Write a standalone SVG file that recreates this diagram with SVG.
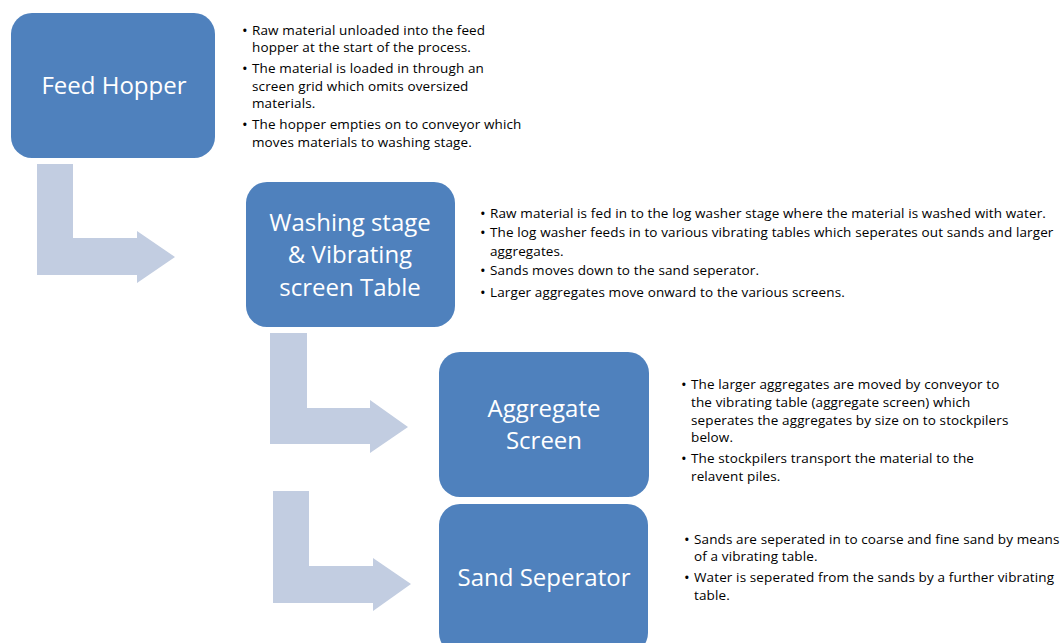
<svg xmlns="http://www.w3.org/2000/svg" width="1062" height="643" viewBox="0 0 1062 643">
<style>
.box{fill:#4F81BD;}
.arrow{fill:#C2CDE1;}
.nt{font-family:"Open Sans","Liberation Sans",sans-serif;font-size:24px;fill:#FFFFFF;text-anchor:middle;}
.bt{font-family:"Open Sans","Liberation Sans",sans-serif;font-size:13.5px;letter-spacing:0.12px;fill:#000000;}
.bu{font-size:15px;}
</style>
<rect width="1062" height="643" fill="#FFFFFF"/>
<g id="connectors">
<path class="arrow" d="M37,164 H73 V238 H137 V231 L175,257 L137,283 V275 H37 Z"/>
<path class="arrow" d="M270,333 H307 V408 H370 V400 L408,427 L370,453 V444 H270 Z"/>
<path class="arrow" d="M273,491 H309 V566 H373 V558 L411,584 L373,611 V603 H273 Z"/>
</g>
<g id="feed-hopper">
<rect class="box" x="11" y="13" width="204" height="145" rx="21"/>
<text class="nt" x="114" y="94">Feed Hopper</text>
</g>
<g id="feed-hopper-notes">
<text class="bt"><tspan class="bu" x="242" y="36">•</tspan><tspan x="252" y="35">Raw material unloaded into the feed</tspan><tspan x="252" y="52">hopper at the start of the process.</tspan><tspan class="bu" x="242" y="74">•</tspan><tspan x="252" y="73">The material is loaded in through an</tspan><tspan x="252" y="91">screen grid which omits oversized</tspan><tspan x="252" y="108">materials.</tspan><tspan class="bu" x="242" y="130">•</tspan><tspan x="252" y="129">The hopper empties on to conveyor which</tspan><tspan x="252" y="147">moves materials to washing stage.</tspan></text>
</g>
<g id="washing-stage">
<rect class="box" x="246" y="182" width="209" height="145" rx="21"/>
<text class="nt" x="350" y="231">Washing stage</text>
<text class="nt" x="350" y="263">&amp; Vibrating</text>
<text class="nt" x="350" y="296">screen Table</text>
</g>
<g id="washing-notes">
<text class="bt"><tspan class="bu" x="480" y="219">•</tspan><tspan x="490" y="218">Raw material is fed in to the log washer stage where the material is washed with water.</tspan><tspan class="bu" x="480" y="238">•</tspan><tspan x="490" y="237">The log washer feeds in to various vibrating tables which seperates out sands and larger</tspan><tspan x="490" y="256">aggregates.</tspan><tspan class="bu" x="480" y="276">•</tspan><tspan x="490" y="275">Sands moves down to the sand seperator.</tspan><tspan class="bu" x="480" y="298">•</tspan><tspan x="490" y="297">Larger aggregates move onward to the various screens.</tspan></text>
</g>
<g id="aggregate-screen">
<rect class="box" x="439" y="352" width="210" height="145" rx="21"/>
<text class="nt" x="544" y="417">Aggregate</text>
<text class="nt" x="544" y="449">Screen</text>
</g>
<g id="aggregate-notes">
<text class="bt"><tspan class="bu" x="681" y="390">•</tspan><tspan x="691" y="389">The larger aggregates are moved by conveyor to</tspan><tspan x="691" y="407">the vibrating table (aggregate screen) which</tspan><tspan x="691" y="425">seperates the aggregates by size on to stockpilers</tspan><tspan x="691" y="442">below.</tspan><tspan class="bu" x="681" y="464">•</tspan><tspan x="691" y="463">The stockpilers transport the material to the</tspan><tspan x="691" y="481">relavent piles.</tspan></text>
</g>
<g id="sand-seperator">
<rect class="box" x="439" y="504" width="209" height="150" rx="21"/>
<text class="nt" x="544" y="586">Sand Seperator</text>
</g>
<g id="sand-notes">
<text class="bt"><tspan class="bu" x="684" y="545">•</tspan><tspan x="694" y="544">Sands are seperated in to coarse and fine sand by means</tspan><tspan x="694" y="561">of a vibrating table.</tspan><tspan class="bu" x="684" y="583">•</tspan><tspan x="694" y="582">Water is seperated from the sands by a further vibrating</tspan><tspan x="694" y="600">table.</tspan></text>
</g>
</svg>
